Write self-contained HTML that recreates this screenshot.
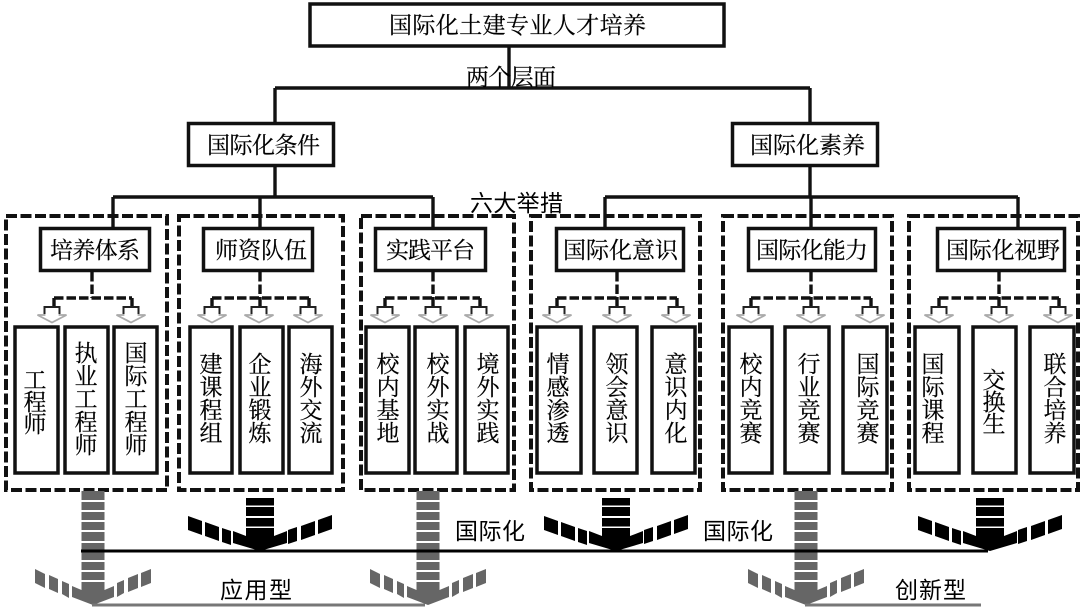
<!DOCTYPE html>
<html lang="zh">
<head>
<meta charset="utf-8">
<title>国际化土建专业人才培养</title>
<style>
html,body{margin:0;padding:0;background:#fff;width:1083px;height:608px;overflow:hidden}
svg{display:block}
text{font-family:"Liberation Serif","Noto Serif CJK SC",serif;fill:#000;font-size:23px;stroke:#000;stroke-width:.2}
.n{font-family:"Liberation Sans","Noto Sans CJK SC",sans-serif;font-size:23px;stroke-width:0}
.v{text-anchor:middle}
.b{fill:#fff;stroke:#111;stroke-width:3.5}
.l{fill:#fff;stroke:#111;stroke-width:3.5}
.s{fill:none;stroke:#111;stroke-width:3.4}
.d{fill:none;stroke:#111;stroke-width:4;stroke-dasharray:11 3.5}
.c{fill:none;stroke:#111;stroke-width:3.4;stroke-dasharray:9.500 3}
</style>
</head>
<body>
<svg width="1083" height="608" viewBox="0 0 1083 608" xmlns="http://www.w3.org/2000/svg">
<defs>
<g id="h">
<path d="M-7.500 0V8H-14.500L0 15.500L14.500 8H7.500V0" fill="#fff" stroke="#aaa" stroke-width="1.8"/>
<path d="M-7.500 7V0H7.500V7" fill="none" stroke="#222" stroke-width="2"/>
</g>
<g id="ba">
<rect x="-14" y="-53" width="28" height="7.500"/>
<rect x="-14" y="-44" width="28" height="9"/>
<rect x="-14" y="-33" width="28" height="8.500"/>
<polygon points="-14,-23 14,-23 14,-15 27,-20 27,-8 0,0 -27,-8 -27,-20 -14,-15"/>
<polygon points="-72,-35 -58,-30 -58,-16 -72,-21"/>
<polygon points="-55,-29 -41,-24 -41,-10 -55,-15"/>
<polygon points="-38,-23 -29,-20 -29,-6 -38,-9"/>
<polygon points="72,-36 58,-31 58,-17 72,-22"/>
<polygon points="55,-30 41,-25 41,-11 55,-16"/>
<polygon points="37,-24 28,-21 28,-7 37,-10"/>
</g>
<g id="ga">
<rect x="-11.500" y="-114" width="23" height="9"/>
<rect x="-11.500" y="-103" width="23" height="8"/>
<rect x="-11.500" y="-93" width="23" height="8"/>
<rect x="-11.500" y="-83" width="23" height="8"/>
<rect x="-11.500" y="-73" width="23" height="9"/>
<rect x="-11.500" y="-62" width="23" height="7"/>
<rect x="-11.500" y="-53" width="23" height="8"/>
<rect x="-11.500" y="-43" width="23" height="8"/>
<rect x="-11.500" y="-33" width="23" height="8"/>
<polygon points="-11.500,-23 11.500,-23 11.500,-15 21,-19 21,-8 0,0 -21,-8 -21,-19 -11.500,-15"/>
<polygon points="-58,-36 -48,-31 -48,-17 -58,-22"/>
<polygon points="-44,-30 -35,-26 -35,-12 -44,-16"/>
<polygon points="-31,-24 -24,-21 -24,-7 -31,-11"/>
<polygon points="58,-36 48,-32 48,-18 58,-22"/>
<polygon points="45,-31 35,-27 35,-13 45,-17"/>
<polygon points="31,-25 24,-22 24,-8 31,-12"/>
</g>
</defs>

<!-- top connectors -->
<path class="s" d="M509 47V88M275 88H810M275 88V123M810 88V123M275 166V197M810 166V197M113 197H433M605 197H1018M113 197V228M260 197V228M433 197V228M605 197V228M811 197V228M1018 197V228"/>

<!-- dashed groups -->
<rect class="d" x="6" y="216" width="161" height="274"/>
<rect class="d" x="179" y="216" width="164" height="274"/>
<rect class="d" x="361" y="216" width="153" height="274"/>
<rect class="d" x="531" y="216" width="169" height="274"/>
<rect class="d" x="723" y="216" width="169" height="274"/>
<rect class="d" x="909" y="216" width="169" height="274"/>

<!-- main boxes -->
<rect class="b" x="310" y="4" width="414" height="42"/>
<rect class="b" x="188.500" y="123.500" width="145" height="42"/>
<rect class="b" x="732.500" y="123.500" width="145" height="42"/>
<rect class="b" x="40.500" y="228.500" width="109" height="42"/>
<rect class="b" x="203.500" y="228.500" width="109" height="42"/>
<rect class="b" x="375.500" y="228.500" width="110" height="42"/>
<rect class="b" x="556.500" y="228.500" width="127" height="42"/>
<rect class="b" x="748.500" y="228.500" width="127" height="42"/>
<rect class="b" x="937.500" y="228.500" width="127" height="42"/>

<!-- dashed connectors -->
<path class="c" d="M92 272V298M54 298H132M54 298V307M132 298V307"/>
<path class="c" d="M260 272V307M212 298H309M212 298V307M309 298V307"/>
<path class="c" d="M433 272V307M385 298H480M385 298V307M480 298V307"/>
<path class="c" d="M617 272V307M557 298H677M557 298V307M677 298V307"/>
<path class="c" d="M811 272V307M751 298H871M751 298V307M871 298V307"/>
<path class="c" d="M999 272V307M939 298H1059M939 298V307M1059 298V307"/>

<!-- hollow arrows -->
<use href="#h" x="52" y="307"/><use href="#h" x="131" y="307"/>
<use href="#h" x="212" y="307"/><use href="#h" x="259" y="307"/><use href="#h" x="308" y="307"/>
<use href="#h" x="385" y="307"/><use href="#h" x="433" y="307"/><use href="#h" x="479" y="307"/>
<use href="#h" x="557" y="307"/><use href="#h" x="617" y="307"/><use href="#h" x="676" y="307"/>
<use href="#h" x="751" y="307"/><use href="#h" x="811" y="307"/><use href="#h" x="870" y="307"/>
<use href="#h" x="939" y="307"/><use href="#h" x="999" y="307"/><use href="#h" x="1058" y="307"/>

<!-- leaf boxes -->
<rect class="l" x="15" y="327" width="43" height="146"/>
<rect class="l" x="65" y="327" width="43" height="146"/>
<rect class="l" x="114" y="327" width="43" height="146"/>
<rect class="l" x="190" y="327" width="42" height="146"/>
<rect class="l" x="240" y="327" width="43" height="146"/>
<rect class="l" x="289" y="327" width="43" height="146"/>
<rect class="l" x="366" y="327" width="43" height="146"/>
<rect class="l" x="415" y="327" width="42" height="146"/>
<rect class="l" x="465" y="327" width="43" height="146"/>
<rect class="l" x="537" y="327" width="44" height="146"/>
<rect class="l" x="594" y="327" width="43" height="146"/>
<rect class="l" x="652" y="327" width="43" height="146"/>
<rect class="l" x="729" y="327" width="43" height="146"/>
<rect class="l" x="785" y="327" width="44" height="146"/>
<rect class="l" x="843" y="327" width="44" height="146"/>
<rect class="l" x="915" y="327" width="44" height="146"/>
<rect class="l" x="973" y="327" width="43" height="146"/>
<rect class="l" x="1030" y="327" width="44" height="146"/>

<!-- horizontal labels -->
<text x="389" y="33" textLength="257">国际化土建专业人才培养</text>
<text x="207" y="153" textLength="113">国际化条件</text>
<text x="750" y="153" textLength="115">国际化素养</text>
<text x="50" y="258" textLength="90">培养体系</text>
<text x="215" y="258" textLength="92">师资队伍</text>
<text x="386" y="258" textLength="89">实践平台</text>
<text x="563" y="258" textLength="115">国际化意识</text>
<text x="756" y="258" textLength="112">国际化能力</text>
<text x="946" y="258" textLength="114">国际化视野</text>
<text x="466" y="85" textLength="90">两个层面</text>
<text class="n" x="470" y="211" textLength="93">六大举措</text>
<text class="n" x="455" y="539" textLength="70">国际化</text>
<text class="n" x="703" y="539" textLength="70">国际化</text>
<text class="n" x="220" y="598" textLength="72">应用型</text>
<text class="n" x="895" y="598" textLength="71">创新型</text>

<!-- vertical labels -->
<text class="v" x="35 35 35" y="388 410 432">工程师</text>
<text class="v" x="86 86 86 86 86" y="361 384 407 430 453">执业工程师</text>
<text class="v" x="136 136 136 136 136" y="361 384 407 430 453">国际工程师</text>
<text class="v" x="211 211 211 211" y="372 395 418 441">建课程组</text>
<text class="v" x="260 260 260 260" y="372 395 418 441">企业锻炼</text>
<text class="v" x="311 311 311 311" y="372 395 418 441">海外交流</text>
<text class="v" x="388 388 388 388" y="372 395 418 441">校内基地</text>
<text class="v" x="438 438 438 438" y="372 395 418 441">校外实战</text>
<text class="v" x="488 488 488 488" y="372 395 418 441">境外实践</text>
<text class="v" x="558 558 558 558" y="372 395 418 441">情感渗透</text>
<text class="v" x="617 617 617 617" y="372 395 418 441">领会意识</text>
<text class="v" x="676 676 676 676" y="372 395 418 441">意识内化</text>
<text class="v" x="751 751 751 751" y="372 395 418 441">校内竞赛</text>
<text class="v" x="809 809 809 809" y="372 395 418 441">行业竞赛</text>
<text class="v" x="868 868 868 868" y="372 395 418 441">国际竞赛</text>
<text class="v" x="933 933 933 933" y="372 395 418 441">国际课程</text>
<text class="v" x="994 994 994" y="388 410 432">交换生</text>
<text class="v" x="1055 1055 1055 1055" y="372 395 418 441">联合培养</text>

<!-- bottom arrows -->
<g fill="#666">
<use href="#ga" x="93" y="605"/>
<use href="#ga" x="428" y="605"/>
<use href="#ga" x="806" y="605"/>
</g>
<line x1="92" y1="605" x2="425" y2="605" stroke="#777" stroke-width="3"/>
<line x1="805" y1="605" x2="981" y2="605" stroke="#777" stroke-width="3"/>
<g fill="#000">
<use href="#ba" x="260" y="551"/>
<use href="#ba" x="616" y="551"/>
<use href="#ba" x="990" y="551"/>
</g>
<line x1="81" y1="551" x2="988" y2="551" stroke="#000" stroke-width="3"/>
</svg>
</body>
</html>
